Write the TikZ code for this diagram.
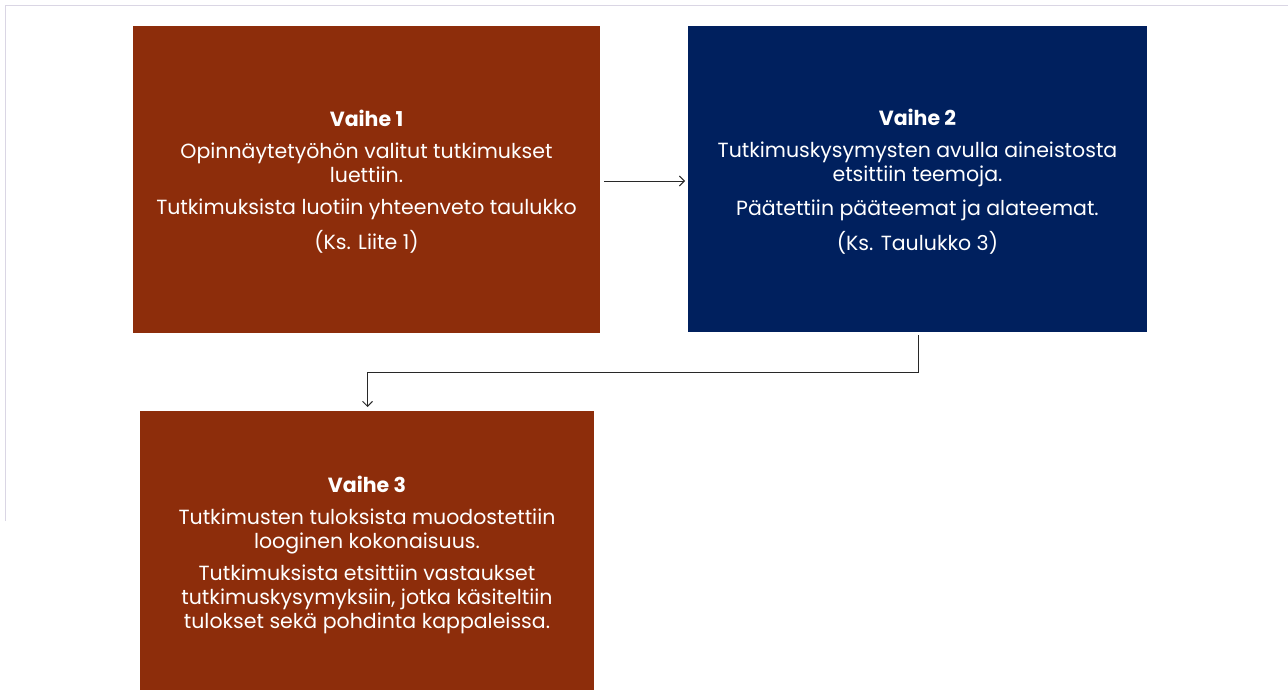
\documentclass[tikz,border=0pt]{standalone}
\usepackage{fontspec}
\setmainfont{Poppins}
\usetikzlibrary{arrows.meta}
\definecolor{rust}{RGB}{141,45,11}
\definecolor{navy}{RGB}{0,32,94}
\definecolor{frame}{RGB}{218,214,228}
\definecolor{conn}{RGB}{40,40,40}
\tikzset{
  stepbox/.style={draw=none, inner sep=0pt, text=white, align=center,
    font=\fontsize{20.5}{24}\selectfont},
  conn/.style={draw=conn, line width=0.9pt, -{Straight Barb[length=5pt,width=10pt]}},
}
\begin{document}
\begin{tikzpicture}[x=1pt,y=-1pt]
\useasboundingbox (0,0) rectangle (1288,690);
\draw[frame, line width=1.5pt] (5.5,521) -- (5.5,5.5) -- (1288,5.5);
% boxes
\fill[rust] (133,26) rectangle (600,333);
\fill[navy] (688,26) rectangle (1147,332);
\fill[rust] (140,411) rectangle (594,690);
\node[stepbox] (b1) at (366.5,181.5) {{\bfseries Vaihe 1}\\[8pt]Opinnäytetyöhön valitut tutkimukset\\luettiin.\\[8pt]Tutkimuksista luotiin yhteenveto taulukko\\[10pt](Ks. Liite 1)};
\node[stepbox] (b2) at (917.5,181.5) {{\bfseries Vaihe 2}\\[8pt]Tutkimuskysymysten avulla aineistosta\\etsittiin teemoja.\\[10pt]Päätettiin pääteemat ja alateemat.\\[9pt](Ks. Taulukko 3)};
\node[stepbox] (b3) at (367,555) {{\bfseries Vaihe 3}\\[8pt]Tutkimusten tuloksista muodostettiin\\looginen kokonaisuus.\\[8pt]Tutkimuksista etsittiin vastaukset\\tutkimuskysymyksiin, jotka käsiteltiin\\tulokset sekä pohdinta kappaleissa.};
\coordinate (a1s) at (604,181);
\coordinate (a1e) at (685,181);
\coordinate (a2s) at (918,335);
\coordinate (a2m) at (918,372.5);
\coordinate (a2n) at (367.5,372.5);
\coordinate (a2e) at (367.5,407);
\draw[conn] (a1s) -- (a1e);
\draw[conn] (a2s) -- (a2m) -- (a2n) -- (a2e);
\end{tikzpicture}
\end{document}
